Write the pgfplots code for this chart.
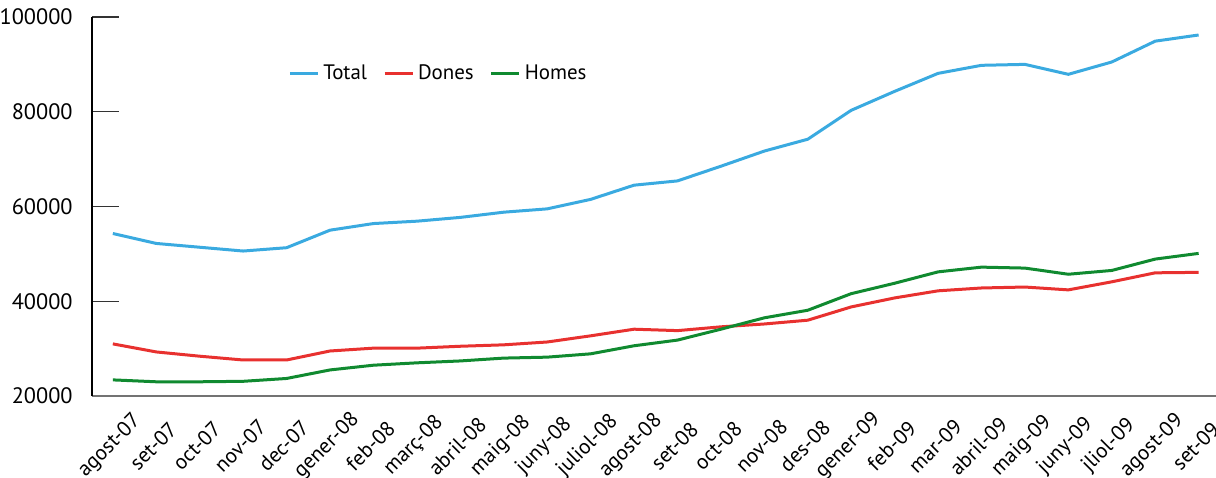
\documentclass[border=0pt]{standalone}
\usepackage{fontspec}
\setmainfont{PT Sans}
\usepackage{pgfplots}
\pgfplotsset{compat=1.18}
\definecolor{cTotal}{HTML}{3AAAE0}
\definecolor{cDones}{HTML}{E8312F}
\definecolor{cHomes}{HTML}{108A30}
\begin{document}
\fontsize{10.5}{12}\selectfont
\begin{tikzpicture}
\begin{axis}[
  scale only axis,
  width=562bp, height=189.5bp,
  xmin=-0.48, xmax=25.4,
  ymin=20000, ymax=100000,
  axis x line=bottom, axis y line=left,
  axis line style={-},
  x axis line style={draw=black!55, line width=1bp},
  y axis line style={draw=black, line width=0.6bp},
  ytick={20000,40000,60000,80000,100000},
  yticklabels={20000,40000,60000,80000,100000},
  scaled y ticks=false,
  ytick style={draw=black!80, line width=0.6bp},
  tick align=inside,
  major tick length=13.5bp,
  yticklabel style={font=\fontsize{11.2}{12}\selectfont, xshift=-6bp},
  xtick={0,...,25},
  xtick style={draw=none},
  xticklabels={agost-07,set-07,oct-07,nov-07,dec-07,gener-08,feb-08,març-08,abril-08,maig-08,juny-08,juliol-08,agost-08,set-08,oct-08,nov-08,des-08,gener-09,feb-09,mar-09,abril-09,maig-09,juny-09,jliol-09,agost-09,set-09},
  xticklabel style={font=\fontsize{10.6}{12}\selectfont, yshift=-25bp, xshift=-1.5bp, rotate=45, anchor=center, inner sep=0bp},
  legend style={draw=none, fill=none, at={(0.169,0.85)}, anchor=west, legend columns=-1, font=\fontsize{10.5}{12}\selectfont, /tikz/every even column/.append style={column sep=6bp}},
  legend image code/.code={\draw[#1] (0bp,0bp) -- (14bp,0bp);},
  every axis plot/.append style={line width=1.5bp},
  clip=false,
]
\addplot[cTotal] coordinates {(0,54300)(1,52200)(2,51400)(3,50600)(4,51300)(5,55000)(6,56400)(7,56900)(8,57700)(9,58800)(10,59500)(11,61500)(12,64500)(13,65400)(14,68500)(15,71700)(16,74200)(17,80300)(18,84300)(19,88100)(20,89800)(21,90000)(22,87900)(23,90500)(24,94900)(25,96200)};
\addlegendentry{Total}
\addplot[cDones] coordinates {(0,31000)(1,29300)(2,28400)(3,27600)(4,27600)(5,29500)(6,30100)(7,30100)(8,30500)(9,30800)(10,31400)(11,32700)(12,34100)(13,33800)(14,34600)(15,35200)(16,36000)(17,38800)(18,40700)(19,42200)(20,42800)(21,43000)(22,42400)(23,44100)(24,46000)(25,46100)};
\addlegendentry{Dones}
\addplot[cHomes] coordinates {(0,23400)(1,23000)(2,23000)(3,23100)(4,23700)(5,25500)(6,26500)(7,27000)(8,27400)(9,28000)(10,28200)(11,28900)(12,30600)(13,31800)(14,34100)(15,36500)(16,38100)(17,41600)(18,43800)(19,46200)(20,47200)(21,47000)(22,45700)(23,46500)(24,48900)(25,50100)};
\addlegendentry{Homes}
\end{axis}
\pgfresetboundingbox
\path[use as bounding box] (current axis.south west) ++(-46bp,-41bp) rectangle ++(608bp,239bp);
\end{tikzpicture}
\end{document}
